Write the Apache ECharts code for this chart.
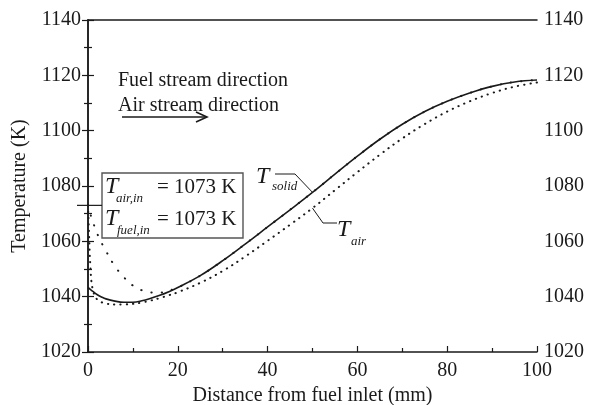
<!DOCTYPE html>
<html>
<head>
<meta charset="utf-8">
<script src="https://cdn.jsdelivr.net/npm/echarts@6/dist/echarts.min.js"></script>
<style>
  html, body { margin: 0; padding: 0; background: #fff; }
  #chart { width: 590px; height: 405px; }
</style>
</head>
<body>
<div id="chart"></div>
<script>
// distance from fuel inlet (mm)
const distance = [0, 0.25, 0.5, 1, 2, 3, 4, 6, 8, 10, 12, 14, 16, 18, 20, 25, 30, 35, 40, 45, 50, 55, 60, 65, 70, 75, 80, 85, 90, 95, 100];
// temperatures (K)
const tSolid = [1043.3, 1043, 1042.6, 1042, 1040.8, 1039.9, 1039.2, 1038.4, 1038, 1038, 1038.5, 1039.4, 1040.5, 1041.8, 1043.3, 1047.6, 1053, 1059, 1065.2, 1071.4, 1077.7, 1084.3, 1090.8, 1096.9, 1102.3, 1106.9, 1110.6, 1113.6, 1116, 1117.6, 1118.3];
const tAir = [1073, 1062, 1052, 1043, 1039, 1038, 1037.5, 1037.2, 1037.2, 1037.4, 1037.9, 1038.6, 1039.5, 1040.5, 1041.6, 1045, 1049.3, 1054.5, 1060.2, 1066, 1072, 1078.5, 1085, 1091.3, 1097.2, 1102.4, 1106.9, 1110.6, 1113.6, 1115.9, 1117.4];
const tFuel = [1073, 1071.5, 1070, 1067.5, 1063, 1059.5, 1056.5, 1051, 1047, 1044, 1042.3, 1041.5, 1041.5, 1042.2, 1043.3, 1047.6, 1053, 1059, 1065.2, 1071.4, 1077.7, 1084.3, 1090.8, 1096.9, 1102.3, 1106.9, 1110.6, 1113.6, 1116, 1117.6, 1118.3];
const yTicks = [1020, 1040, 1060, 1080, 1100, 1120, 1140];
const xTicks = [0, 20, 40, 60, 80, 100];

const font = 'Liberation Serif';
const ink = '#1a1a1a';

function pairs(ys) {
  return distance.map((x, i) => [x, ys[i]]);
}

function yAxisDef(pos) {
  return {
    type: 'value',
    position: pos,
    min: yTicks[0],
    max: yTicks[yTicks.length - 1],
    interval: 20,
    name: pos === 'left' ? 'Temperature (K)' : '',
    nameLocation: 'middle',
    nameGap: 58,
    nameTextStyle: { fontFamily: font, fontSize: 20, color: ink },
    axisLine: { show: true, lineStyle: { color: ink, width: 1.5 } },
    axisTick: { show: true, inside: true, length: 6, lineStyle: { color: ink, width: 1.2 } },
    minorTick: { show: true, splitNumber: 2, length: 4, lineStyle: { color: ink, width: 1.2 } },
    axisLabel: { fontFamily: font, fontSize: 20, color: ink, margin: 7, formatter: v => String(v) },
    splitLine: { show: false }
  };
}

const option = {
  animation: false,
  backgroundColor: '#fff',
  grid: { left: 88, right: 53, top: 20, bottom: 53, outerBoundsMode: 'none', containLabel: false },
  xAxis: [
    {
      type: 'value',
      min: xTicks[0],
      max: xTicks[xTicks.length - 1],
      interval: 20,
      name: 'Distance from fuel inlet (mm)',
      nameLocation: 'middle',
      nameGap: 32,
      nameTextStyle: { fontFamily: font, fontSize: 20, color: ink },
      axisLine: { show: true, lineStyle: { color: ink, width: 1.5 } },
      axisTick: { show: true, inside: true, length: 6, lineStyle: { color: ink, width: 1.2 } },
      minorTick: { show: true, splitNumber: 2, length: 4, lineStyle: { color: ink, width: 1.2 } },
      axisLabel: { fontFamily: font, fontSize: 20, color: ink, margin: 9, formatter: v => String(v) },
      splitLine: { show: false }
    },
    {
      type: 'value',
      position: 'top',
      min: 0,
      max: 100,
      axisLine: { show: true, lineStyle: { color: ink, width: 1.5 } },
      axisTick: { show: false },
      axisLabel: { show: false },
      splitLine: { show: false }
    }
  ],
  yAxis: [yAxisDef('left'), yAxisDef('right')],
  series: [
    {
      name: 'T_fuel',
      type: 'line',
      data: pairs(tFuel),
      smooth: 0.4,
      symbol: 'none',
      lineStyle: { color: ink, width: 2, type: [0.3, 10], cap: 'round' }
    },
    {
      name: 'T_air',
      type: 'line',
      data: pairs(tAir),
      smooth: 0.4,
      symbol: 'none',
      lineStyle: { color: ink, width: 2, type: [0.3, 6], cap: 'round' }
    },
    {
      name: 'T_solid',
      type: 'line',
      data: pairs(tSolid),
      smooth: 0.4,
      symbol: 'none',
      lineStyle: { color: ink, width: 1.6 }
    }
  ]
};

const chart = echarts.init(document.getElementById('chart'), null, { renderer: 'canvas' });
chart.setOption(option);

// annotations
function px(x, y) {
  return chart.convertToPixel({ gridIndex: 0 }, [x, y]);
}
function txt(x, y, s, size, italic) {
  return {
    type: 'text', x: x, y: y,
    style: { text: s, font: (italic ? 'italic ' : '') + size + 'px "' + font + '"', fill: ink, textVerticalAlign: 'top' }
  };
}
function seg(pts, w) {
  return { type: 'polyline', shape: { points: pts }, style: { stroke: ink, lineWidth: w || 1, fill: null } };
}

const pSolid = px(50, 1077.7);
const pAir = px(50, 1072);
const pIn = px(0, 1073);

chart.setOption({
  graphic: [
    txt(118, 71, 'Fuel stream direction', 20),
    txt(118, 96, 'Air stream direction', 20),
    seg([[122, 117], [206, 117]], 1.6),
    seg([[196, 112], [207, 117], [196, 122]], 1.6),
    // inlet box
    { type: 'rect', shape: { x: 102, y: 173, width: 141, height: 65 }, style: { fill: null, stroke: '#555', lineWidth: 1.4 } },
    seg([[pIn[0] - 11, pIn[1]], [102, pIn[1]]], 1.2),
    txt(105, 175, 'T', 24, true),
    txt(116, 192, 'air,in', 13, true),
    txt(157, 177, '= 1073 K', 21),
    txt(105, 207, 'T', 24, true),
    txt(117, 224, 'fuel,in', 13, true),
    txt(157, 209, '= 1073 K', 21),
    // curve labels
    txt(256, 165, 'T', 24, true),
    txt(272, 180, 'solid', 13, true),
    seg([[275, 174], [295, 174], pSolid], 1),
    txt(337, 218, 'T', 24, true),
    txt(351, 235, 'air', 13, true),
    seg([pAir, [323, 223], [337, 223]], 1)
  ]
});
</script>
</body>
</html>
